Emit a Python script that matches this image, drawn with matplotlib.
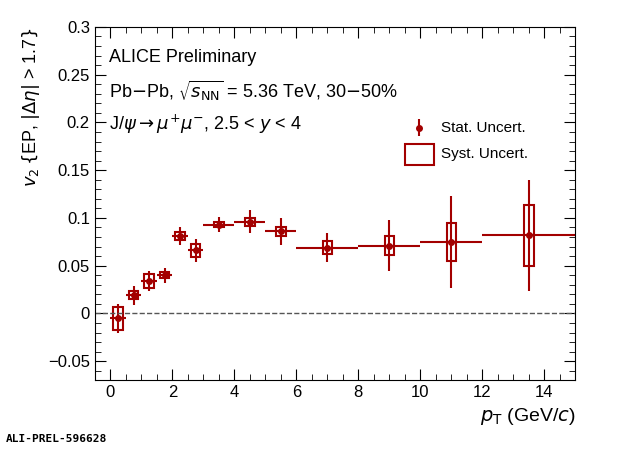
import numpy as np
import matplotlib.pyplot as plt
from matplotlib.patches import Rectangle

plt.rcParams['font.family'] = ['Liberation Sans', 'DejaVu Sans']

pt = np.array([0.25, 0.75, 1.25, 1.75, 2.25, 2.75, 3.5, 4.5, 5.5, 7, 9, 11, 13.5])
pt_err = np.array([0.25, 0.25, 0.25, 0.25, 0.25, 0.25, 0.5, 0.5, 0.5, 1, 1, 1, 1.5])
v2 = np.array([-0.005, 0.019, 0.034, 0.040, 0.081, 0.066, 0.093, 0.096, 0.086, 0.069, 0.071, 0.075, 0.082])
stat = np.array([0.015, 0.010, 0.010, 0.008, 0.009, 0.012, 0.008, 0.012, 0.014, 0.015, 0.027, 0.048, 0.058])
syst = np.array([0.012, 0.004, 0.007, 0.003, 0.004, 0.007, 0.003, 0.004, 0.005, 0.007, 0.010, 0.020, 0.032])

col = '#a30000'
fig = plt.figure(figsize=(6.2, 4.49), dpi=100)
ax = fig.add_axes([0.153, 0.153, 0.775, 0.787])

for x, y, s in zip(pt, v2, syst):
    ax.add_patch(Rectangle((x - 0.15, y - s), 0.3, 2 * s, fill=False, ec=col, lw=1.5))
ax.errorbar(pt, v2, xerr=pt_err, yerr=stat, fmt='o', color=col, ms=4, lw=1.5, capsize=0)
ax.axhline(0, color='#555555', ls='--', lw=1)

ax.set_xlim(-0.5, 15)
ax.set_ylim(-0.07, 0.3)
ax.set_xticks(np.arange(0, 15, 2))
ax.set_xticks(np.arange(-0.5, 15, 0.5), minor=True)
ax.set_yticks(np.arange(-0.05, 0.31, 0.05))
ax.set_yticks(np.arange(-0.07, 0.3, 0.01), minor=True)
ax.set_yticklabels(['\u22120.05', '0', '0.05', '0.1', '0.15', '0.2', '0.25', '0.3'])
ax.tick_params(which='both', direction='in', top=True, right=True, labelsize=12)
ax.tick_params(which='major', length=8)
ax.tick_params(which='minor', length=4)

ax.set_xlabel(r'$p_{\rm T}$ (GeV/$c$)', fontsize=14, loc='right')
ax.set_ylabel(r'$v_2\,\{$EP, $|\Delta\eta|$ > 1.7$\}$', fontsize=13, loc='top')

ax.text(0.03, 0.90, 'ALICE Preliminary', transform=ax.transAxes, fontsize=13)
ax.text(0.03, 0.80, r'Pb$-$Pb, $\sqrt{s_{\rm NN}}$ = 5.36 TeV, 30$-$50%', transform=ax.transAxes, fontsize=13)
ax.text(0.03, 0.71, r'J/$\psi\rightarrow\mu^{+}\mu^{-}$, 2.5 < $y$ < 4', transform=ax.transAxes, fontsize=13)

ax.errorbar([0.675], [0.715], yerr=[0.025], transform=ax.transAxes, fmt='o', color=col, ms=4, lw=1.5)
ax.text(0.72, 0.715, 'Stat. Uncert.', transform=ax.transAxes, fontsize=11, va='center')
ax.add_patch(Rectangle((0.645, 0.61), 0.06, 0.06, transform=ax.transAxes, fill=False, ec=col, lw=1.5))
ax.text(0.72, 0.64, 'Syst. Uncert.', transform=ax.transAxes, fontsize=11, va='center')

fig.text(0.01, 0.015, 'ALI-PREL-596628', fontsize=8, family='DejaVu Sans Mono', weight='bold')
fig.savefig('out.png', dpi=100)
